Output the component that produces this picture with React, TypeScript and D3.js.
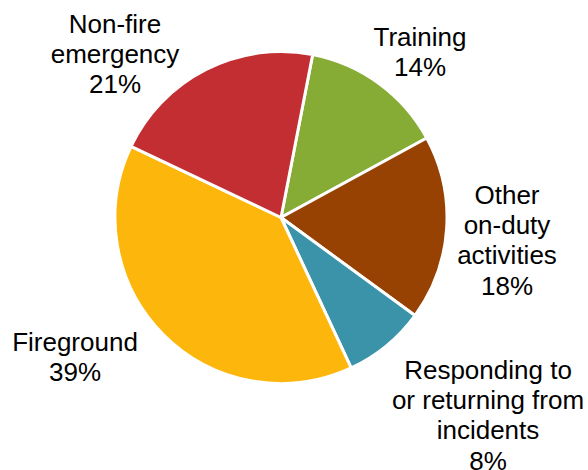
import React from 'react';
import * as d3 from 'd3';

// slice order, clockwise from just right of 12 o'clock
const categories = [
  'Training',
  'Other on-duty activities',
  'Responding to or returning from incidents',
  'Fireground',
  'Non-fire emergency',
];
const shares = [14, 18, 8, 39, 21];
const colors = ['#87AC35', '#974203', '#3A93A9', '#FDB60B', '#C22E31'];

// label text split into lines, and where each block sits (centre x, first baseline)
const labelLines = [
  ['Training', '14%'],
  ['Other', 'on-duty', 'activities', '18%'],
  ['Responding to', 'or returning from', 'incidents', '8%'],
  ['Fireground', '39%'],
  ['Non-fire', 'emergency', '21%'],
];
const labelAnchors: [number, number][] = [
  [420, 46],
  [507, 204],
  [488, 379],
  [75, 351],
  [115, 33],
];

const W = 588;
const H = 470;
const cx = 281;
const cy = 217.5;
const radius = 166;
const start = (11 * Math.PI) / 180;
const lineH = 30.2;

const App: React.FC = () => {
  const pie = d3
    .pie<number>()
    .sort(null)
    .value((d) => d)
    .startAngle(start)
    .endAngle(start + 2 * Math.PI);
  const arcs = pie(shares);
  const arc = d3.arc<d3.PieArcDatum<number>>().innerRadius(0).outerRadius(radius);

  return (
    <svg
      width={W}
      height={H}
      viewBox={`0 0 ${W} ${H}`}
      style={{ position: 'absolute', left: 0, top: 0, background: '#fff' }}
      fontFamily="'Liberation Sans', Arial, sans-serif"
    >
      <g transform={`translate(${cx},${cy})`}>
        {arcs.map((a, i) => (
          <path
            key={categories[i]}
            d={arc(a) || ''}
            fill={colors[i]}
            stroke="#fff"
            strokeWidth={3}
            strokeLinejoin="round"
          />
        ))}
      </g>
      {labelLines.map((lines, i) => (
        <text
          key={categories[i]}
          x={labelAnchors[i][0]}
          y={labelAnchors[i][1]}
          textAnchor="middle"
          fontSize={26}
          fill="#000"
        >
          {lines.map((l, j) => (
            <tspan key={j} x={labelAnchors[i][0]} dy={j === 0 ? 0 : lineH}>
              {l}
            </tspan>
          ))}
        </text>
      ))}
    </svg>
  );
};

export default App;
